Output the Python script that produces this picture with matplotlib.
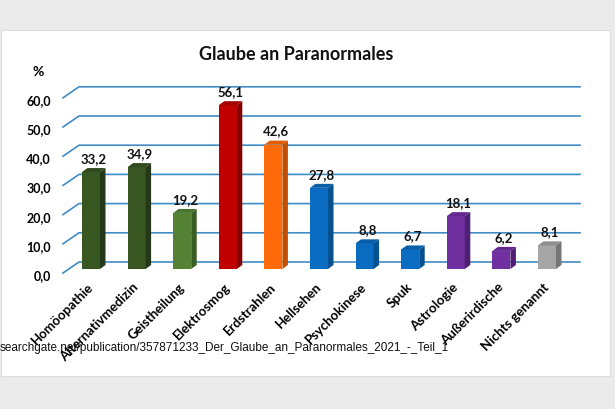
#!/usr/bin/env python3
import matplotlib
matplotlib.use('Agg')
from matplotlib import pyplot as plt
from matplotlib.patches import Polygon, Rectangle
import matplotlib.transforms as mtransforms
import numpy as np

# data
categories = ['Homöopathie', 'Alternativmedizin', 'Geistheilung', 'Elektrosmog',
              'Erdstrahlen', 'Hellsehen', 'Psychokinese', 'Spuk', 'Astrologie',
              'Außerirdische', 'Nichts genannt']
values = [33.2, 34.9, 19.2, 56.1, 42.6, 27.8, 8.8, 6.7, 18.1, 6.2, 8.1]
front_colors = ['#385723', '#385723', '#548235', '#c00000', '#ff6a0a', '#0a6cc0',
                '#0a6cc0', '#0a6cc0', '#7030a0', '#7030a0', '#a6a6a6']
side_colors = ['#24391a', '#24391a', '#3a5d24', '#850000', '#c24f00', '#05508f',
               '#05508f', '#05508f', '#4e1f73', '#4e1f73', '#767676']
top_colors = ['#2f4a1e', '#2f4a1e', '#4a7530', '#a30000', '#e45c00', '#085fa8',
              '#085fa8', '#085fa8', '#622890', '#622890', '#8e8e8e']
yticks = [0, 10, 20, 30, 40, 50, 60]
ytick_labels = ['0,0', '10,0', '20,0', '30,0', '40,0', '50,0', '60,0']
value_labels = [f'{v:.1f}'.replace('.', ',') for v in values]
title = 'Glaube an Paranormales'
source = 'searchgate.net/publication/357871233_Der_Glaube_an_Paranormales_2021_-_Teil_1'

plt.rcParams['font.family'] = ['Lato', 'DejaVu Sans']

W, H = 615, 410
PX_X = 45.6   # pixels per category
PX_Y = 2.92   # pixels per percent

fig = plt.figure(figsize=(W / 100, H / 100), dpi=100)
fig.patch.set_facecolor('#ebebeb')
fig.patches.append(Rectangle((1 / W, 1 - 377 / H), 609 / W, 346 / H,
                             transform=fig.transFigure, facecolor='white',
                             edgecolor='#dcdcdc', lw=0.8, zorder=-10))

# axes box in pixels: left 60, right 600, top 60, bottom 272
ax = fig.add_axes([60 / W, 1 - 272 / H, 540 / W, 212 / H])
ax.set_zorder(1)
ax.set_facecolor('none')
ax.set_xlim((60 - 91) / PX_X, (600 - 91) / PX_X)
ax.set_ylim((270 - 272) / PX_Y, (270 - 60) / PX_Y)
for s in ax.spines.values():
    s.set_visible(False)

x = np.arange(len(categories))
bw = 18 / PX_X
dx, dy = 5.5 / PX_X, 4 / PX_Y

# back wall gridlines with the slanted floor edge on the left
grid_color = '#3f8bc4'
back_dy = 7 / PX_Y
for v in yticks:
    ax.plot([(63 - 91) / PX_X, (79 - 91) / PX_X, (580 - 91) / PX_X],
            [v - 4 / PX_Y, v + back_dy, v + back_dy],
            color=grid_color, lw=1.2, zorder=1, clip_on=False)

# bars: front face + side + top
ax.bar(x, values, width=bw, color=front_colors, zorder=3)
for xi, v, sc, tc in zip(x, values, side_colors, top_colors):
    r = xi + bw / 2
    l = xi - bw / 2
    ax.add_patch(Polygon([(r, 0), (r + dx, dy), (r + dx, v + dy), (r, v)],
                         closed=True, facecolor=sc, edgecolor='none', zorder=3))
    ax.add_patch(Polygon([(l, v), (l + dx, v + dy), (r + dx, v + dy), (r, v)],
                         closed=True, facecolor=tc, edgecolor='none', zorder=3))

for xi, v, lab in zip(x, values, value_labels):
    ax.annotate(lab, (xi + dx / 2, v + dy), xytext=(0, 3), textcoords='offset points',
                ha='center', va='bottom', fontsize=9.5, fontweight='bold', color='#111111')

ax.set_yticks(yticks, ytick_labels)
ax.tick_params(axis='y', length=0, pad=6.5, labelsize=9)
shift = mtransforms.ScaledTranslation(0, -5 / 100, fig.dpi_scale_trans)
for lab in ax.get_yticklabels():
    lab.set_fontweight('bold')
    lab.set_transform(lab.get_transform() + shift)

ax.set_xticks(x, categories)
ax.tick_params(axis='x', length=0, pad=9.5)
for lab in ax.get_xticklabels():
    lab.set_rotation(45)
    lab.set_ha('right')
    lab.set_va('center')
    lab.set_rotation_mode('anchor')
    lab.set_fontsize(9.5)
    lab.set_fontweight('bold')

fig.text(296 / W, 1 - 54 / H, title, ha='center', va='center',
         fontsize=13, fontweight='bold', color='#111111')
fig.text(38 / W, 1 - 72 / H, '%', ha='center', va='center',
         fontsize=10, fontweight='bold')
fig.text(0, 1 - 348 / H, source, ha='left', va='center',
         fontsize=8.5, family='Liberation Sans', color='#111111', zorder=5)

fig.savefig('out.png', dpi=100, facecolor=fig.get_facecolor())
